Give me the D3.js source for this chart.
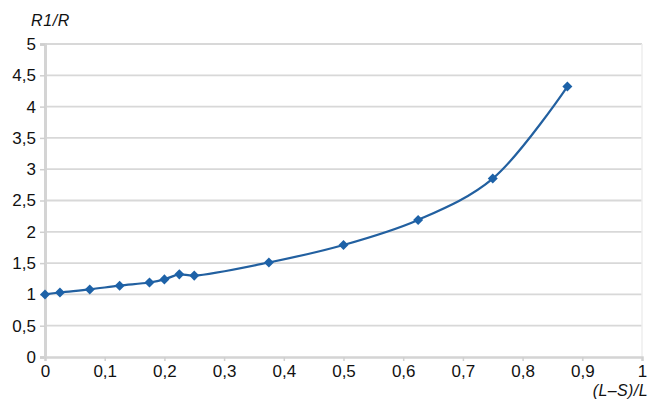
<!DOCTYPE html>
<html>
<head>
<meta charset="utf-8">
<script src="https://cdn.jsdelivr.net/npm/d3@7"></script>
<style>
  html, body { margin: 0; padding: 0; background: #fff; }
  svg { display: block; font-family: "Liberation Sans", Arial, Helvetica, sans-serif; }
</style>
</head>
<body>
<svg id="chart" width="651" height="400"></svg>
<script>
// Ratio R1/R against the relative length (L−S)/L
const ratioX = [0, 0.025, 0.075, 0.125, 0.175, 0.2, 0.225, 0.25, 0.375, 0.5, 0.625, 0.75, 0.875];
const ratioY = [1.0, 1.03, 1.08, 1.14, 1.19, 1.24, 1.32, 1.30, 1.51, 1.79, 2.19, 2.85, 4.32];
const xTicks = [0, 0.1, 0.2, 0.3, 0.4, 0.5, 0.6, 0.7, 0.8, 0.9, 1];
const yTicks = [0, 0.5, 1, 1.5, 2, 2.5, 3, 3.5, 4, 4.5, 5];
const xTitle = "(L–S)/L";
const yTitle = "R1/R";

const svg = d3.select("#chart");
const margin = { left: 45, right: 9, top: 44, bottom: 43 };
const W = 651, H = 400;

const x = d3.scaleLinear().domain([0, 1]).range([margin.left, W - margin.right]);
const y = d3.scaleLinear().domain([0, 5]).range([H - margin.bottom, margin.top]);

const fmt = v => String(v).replace(".", ",");
const FONT = "Liberation Sans, Arial, sans-serif";

// horizontal grid
svg.append("g")
  .selectAll("line")
  .data(yTicks.filter(v => v > 0))
  .join("line")
  .attr("x1", x(0)).attr("x2", x(1))
  .attr("y1", d => y(d)).attr("y2", d => y(d))
  .attr("stroke", "#d8d8d8").attr("stroke-width", 1.8);

// right frame edge
svg.append("line")
  .attr("x1", x(1)).attr("x2", x(1))
  .attr("y1", y(5)).attr("y2", y(0))
  .attr("stroke", "#eeeeee").attr("stroke-width", 1.5);

// y axis
const yAxis = d3.axisLeft(y).tickValues(yTicks).tickFormat(fmt).tickSize(5).tickPadding(4);
const gy = svg.append("g").attr("transform", `translate(${x(0)},0)`).call(yAxis);
gy.select(".domain").attr("stroke", "#d4d4d4").attr("stroke-width", 3);
gy.selectAll(".tick line").attr("stroke", "#cfcfcf").attr("stroke-width", 1.5);
gy.selectAll(".tick text").attr("font-size", 17).attr("fill", "#111").attr("font-family", FONT);

// x axis
const xAxis = d3.axisBottom(x).tickValues(xTicks).tickFormat(fmt).tickSize(4).tickPadding(4);
const gx = svg.append("g").attr("transform", `translate(0,${y(0)})`).call(xAxis);
gx.select(".domain").attr("stroke", "#d4d4d4").attr("stroke-width", 2.5);
gx.selectAll(".tick line").attr("stroke", "#d0d0d0").attr("stroke-width", 1.5);
gx.selectAll(".tick text").attr("font-size", 17).attr("fill", "#111").attr("font-family", FONT);

// axis titles
svg.append("text")
  .attr("x", 31).attr("y", 26)
  .attr("font-size", 16).attr("font-style", "italic").attr("letter-spacing", 0.6).attr("fill", "#111")
  .text(yTitle);
svg.append("text")
  .attr("x", 648).attr("y", 396).attr("text-anchor", "end")
  .attr("font-size", 16).attr("font-style", "italic").attr("letter-spacing", 0.4).attr("fill", "#111")
  .text(xTitle);

// smoothed series line
const pts = ratioX.map((v, i) => [v, ratioY[i]]);
const line = d3.line()
  .x(d => x(d[0])).y(d => y(d[1]))
  .curve(d3.curveCatmullRom.alpha(0.5));
svg.append("path")
  .datum(pts)
  .attr("d", line)
  .attr("fill", "none")
  .attr("stroke", "#2260a0")
  .attr("stroke-width", 2.2);

// diamond markers
const diamond = d3.symbol().type(d3.symbolDiamond2).size(64);
svg.append("g")
  .selectAll("path")
  .data(pts)
  .join("path")
  .attr("transform", d => `translate(${x(d[0])},${y(d[1])})`)
  .attr("d", diamond)
  .attr("fill", "#1d62a8");
</script>
</body>
</html>
